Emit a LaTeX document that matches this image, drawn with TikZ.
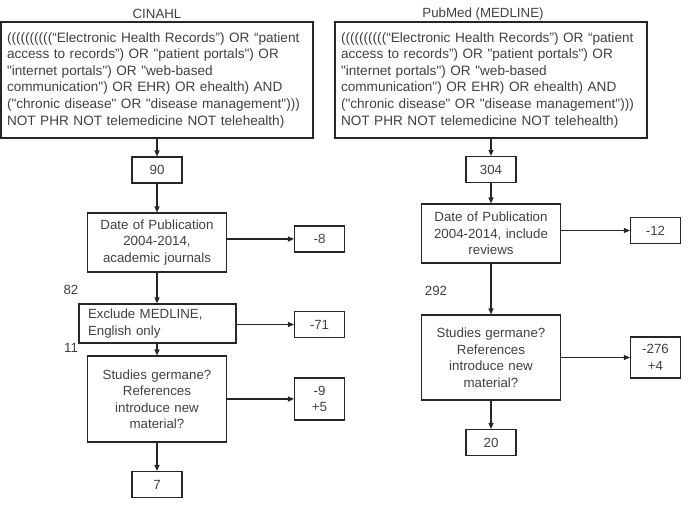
\documentclass[tikz,border=0pt]{standalone}
\usepackage{fontspec}
\setmainfont{Liberation Sans}
\usetikzlibrary{arrows.meta}
\newcommand\schrift{\fontsize{13.3}{16.5}\selectfont}
\newcommand\anf{\textquotedbl}

\begin{document}
\begin{tikzpicture}[x=1pt, y=-1pt,
		kasten/.style={draw=black!85, line width=1.1pt, text=black!75, font=\schrift, inner xsep=6pt, inner ysep=0pt},
		zahl/.style={kasten, minimum width=50pt, minimum height=26pt},
		abfrage/.style={kasten, align=left, text width=300pt, minimum height=116pt, font=\fontsize{13.6}{16.6}\selectfont},
		pfeil/.style={draw=black!85, line width=1.1pt, -{Triangle[length=6pt,width=5pt]}},
		beschr/.style={text=black!75, font=\schrift, inner sep=0pt}]
		\useasboundingbox (0,0) rectangle (698,508);
		% Linke Spalte (CINAHL)
		\node [beschr] (tcinahl) at (157,14) {CINAHL};
		\node [abfrage] (qcinahl) at (157,80) {((((((((((“Electronic Health Records”) OR “patient\\access to records”) OR \anf patient portals\anf) OR\\\anf internet portals\anf) OR \anf web-based\\communication\anf) OR EHR) OR ehealth) AND\\(\anf chronic disease\anf{} OR \anf disease management\anf)))\\NOT PHR NOT telemedicine NOT telehealth)};
		\node [zahl] (n90) at (157,170) {90};
		\node [kasten, align=center, text width=127pt, minimum height=59pt] (datumL) at (157,242.5) {Date of Publication\\2004-2014,\\academic journals};
		\node [zahl] (m8) at (319.5,239) {-8};
		\node [beschr] (z82) at (71,290) {82};
		\node [kasten, align=left, text width=139pt, inner xsep=9pt, minimum height=39pt] (exclL) at (157.5,323.5) {Exclude MEDLINE,\\English only};
		\node [zahl] (m71) at (319.5,324.5) {-71};
		\node [beschr] (z11) at (71,348) {11};
		\node [kasten, align=center, text width=127pt, minimum height=86pt] (studL) at (157,399) {Studies germane?\\References\\introduce new\\material?};
		\node [zahl, align=center, minimum height=42pt] (m9) at (319.5,399) {-9\\+5};
		\node [zahl] (n7) at (157,484.5) {7};
		% Rechte Spalte (PubMed)
		\node [beschr] (tpubmed) at (483,14) {PubMed (MEDLINE)};
		\node [abfrage] (qpubmed) at (491,80) {((((((((((“Electronic Health Records”) OR “patient\\access to records”) OR \anf patient portals\anf) OR\\\anf internet portals\anf) OR \anf web-based\\communication\anf) OR EHR) OR ehealth) AND\\(\anf chronic disease\anf{} OR \anf disease management\anf)))\\NOT PHR NOT telemedicine NOT telehealth)};
		\node [zahl] (n304) at (491,169.5) {304};
		\node [kasten, align=center, text width=127pt, minimum height=59pt] (datumR) at (491,233.5) {Date of Publication\\2004-2014, include\\reviews};
		\node [zahl] (m12) at (655.5,230.5) {-12};
		\node [beschr] (z292) at (436,291) {292};
		\node [kasten, align=center, text width=127pt, minimum height=85pt] (studR) at (491,357.5) {Studies germane?\\References\\introduce new\\material?};
		\node [zahl, align=center, minimum height=41pt] (m276) at (655.5,357.5) {-276\\+4};
		\node [zahl] (n20) at (491,442.5) {20};
		% Pfeile links
		\draw [pfeil] (qcinahl) -- (n90);
		\draw [pfeil] (n90) -- (datumL);
		\draw [pfeil] (datumL) -- (exclL.north -| datumL);
		\draw [pfeil] (exclL.south -| studL) -- (studL);
		\draw [pfeil] (studL) -- (n7);
		\draw [pfeil] (datumL.east |- m8) -- (m8.west);
		\draw [pfeil] (exclL.east |- m71) -- (m71.west);
		\draw [pfeil] (studL.east |- m9) -- (m9.west);
		% Pfeile rechts
		\draw [pfeil] (qpubmed) -- (n304);
		\draw [pfeil] (n304) -- (datumR);
		\draw [pfeil] (datumR) -- (studR);
		\draw [pfeil] (studR) -- (n20);
		\draw [pfeil] (datumR.east |- m12) -- (m12.west);
		\draw [pfeil] (studR.east |- m276) -- (m276.west);
	\end{tikzpicture}
\end{document}
